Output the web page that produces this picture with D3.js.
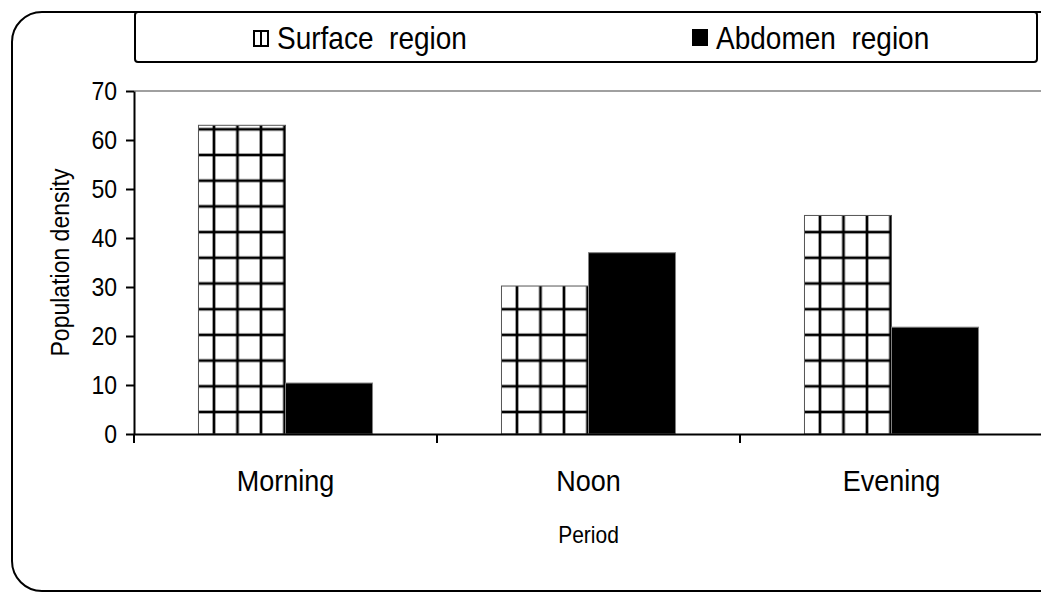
<!DOCTYPE html>
<meta charset="utf-8">
<style>
body { margin: 0; background: #fff; }
text { font-family: "Liberation Sans", Arial, sans-serif; fill: #000; }
</style>
<body>
<script src="https://cdn.jsdelivr.net/npm/d3@7/dist/d3.min.js"></script>
<script>

// data
var periods = ["Morning", "Noon", "Evening"];
var seriesNames = ["Surface region", "Abdomen region"];
var surface = [63, 30.2, 44.6];
var abdomen = [10.4, 37, 21.8];
var yTicks = [0, 10, 20, 30, 40, 50, 60, 70];

var W = 1041, H = 592;
var plotL = 134, plotR = 1043, plotT = 91, plotB = 434;

var svg = d3.select("body").append("svg")
    .attr("width", W)
    .attr("height", H);

var defs = svg.append("defs");

// the original text is a bit taller than it is wide: make glyphs taller, keep width
function stretch(sel, size) {
  sel.style("font-size", size + "px").each(function() {
    var len = this.getComputedTextLength();
    d3.select(this)
      .style("font-size", (size * 1.12) + "px")
      .attr("textLength", len)
      .attr("lengthAdjust", "spacingAndGlyphs");
  });
}

// scales
var x = d3.scaleBand().domain(periods).range([plotL, plotR]).paddingInner(0).paddingOuter(0);
var xs = d3.scaleBand().domain(seriesNames).range([0, x.bandwidth()]).paddingInner(0).paddingOuter(0.741);
var y = d3.scaleLinear().domain([0, 70]).range([plotB, plotT]);

// outer rounded frame (its right side runs off the picture)
svg.append("rect")
    .attr("x", 12).attr("y", 12)
    .attr("width", 1100).attr("height", 579)
    .attr("rx", 30)
    .attr("fill", "none")
    .attr("stroke", "#000")
    .attr("stroke-width", 2);

// grid hatch, one pattern per bar so lines start at the same offset
var pw = 23.5, ph = 25.7;
periods.forEach(function(p, i) {
  var bx = x(p) + xs(seriesNames[0]);
  var pat = defs.append("pattern")
      .attr("id", "hatch" + i)
      .attr("patternUnits", "userSpaceOnUse")
      .attr("width", pw).attr("height", ph)
      .attr("x", bx + 15.5 - pw / 2)
      .attr("y", y(0) - 22 - ph / 2);
  pat.append("rect").attr("width", pw).attr("height", ph).attr("fill", "#fff");
  pat.append("line").attr("x1", pw / 2).attr("x2", pw / 2).attr("y1", 0).attr("y2", ph)
      .attr("stroke", "#000").attr("stroke-width", 2.7);
  pat.append("line").attr("y1", ph / 2).attr("y2", ph / 2).attr("x1", 0).attr("x2", pw)
      .attr("stroke", "#000").attr("stroke-width", 2.7);
});

// top border of plot area
svg.append("line")
    .attr("x1", plotL).attr("x2", W)
    .attr("y1", plotT).attr("y2", plotT)
    .attr("stroke", "#808080").attr("stroke-width", 1.5);

// bars
var g = svg.append("g");
g.selectAll(".surf")
  .data(surface)
  .enter().append("rect")
    .attr("class", "surf")
    .attr("x", function(d, i) { return x(periods[i]) + xs(seriesNames[0]); })
    .attr("y", function(d) { return y(d); })
    .attr("width", xs.bandwidth())
    .attr("height", function(d) { return y(0) - y(d); })
    .attr("fill", function(d, i) { return "url(#hatch" + i + ")"; })
    .attr("stroke", "#555")
    .attr("stroke-width", 1);

g.selectAll(".abd")
  .data(abdomen)
  .enter().append("rect")
    .attr("class", "abd")
    .attr("x", function(d, i) { return x(periods[i]) + xs(seriesNames[1]); })
    .attr("y", function(d) { return y(d); })
    .attr("width", xs.bandwidth())
    .attr("height", function(d) { return y(0) - y(d); })
    .attr("fill", "#000")
    .attr("stroke", "#808080")
    .attr("stroke-width", 1);

// y axis
var yAxis = svg.append("g")
    .attr("transform", "translate(" + plotL + ",0)")
    .call(d3.axisLeft(y).tickValues(yTicks).tickSizeInner(8).tickSizeOuter(0).tickPadding(9));
yAxis.attr("font-family", null).attr("font-size", null);
yAxis.select(".domain").attr("stroke-width", 2);
yAxis.selectAll(".tick line").attr("stroke-width", 2);
yAxis.selectAll("text").attr("fill", "#000").call(stretch, 23);

// x axis: labels at band centres, ticks at band edges
var xAxis = svg.append("g")
    .attr("transform", "translate(0," + plotB + ")")
    .call(d3.axisBottom(x).tickSize(0).tickPadding(36));
xAxis.attr("font-family", null).attr("font-size", null);
xAxis.select(".domain").attr("stroke-width", 2.2);
xAxis.selectAll("text").attr("fill", "#000").call(stretch, 27);

var edges = periods.map(function(p) { return x(p); });
xAxis.selectAll(".edge")
  .data(edges)
  .enter().append("line")
    .attr("class", "edge")
    .attr("x1", function(d) { return d; }).attr("x2", function(d) { return d; })
    .attr("y1", 0).attr("y2", 9)
    .attr("stroke", "#000").attr("stroke-width", 2);

// axis titles
svg.append("text")
    .attr("transform", "translate(69," + ((plotT + plotB) / 2) + ") rotate(-90)")
    .attr("text-anchor", "middle")
    .text("Population density")
    .call(stretch, 23);

svg.append("text")
    .attr("x", (plotL + plotR) / 2)
    .attr("y", 543)
    .attr("text-anchor", "middle")
    .text("Period")
    .call(stretch, 21);

// legend
var leg = svg.append("g");
leg.append("rect")
    .attr("x", 135).attr("y", 12)
    .attr("width", 902).attr("height", 50)
    .attr("rx", 3)
    .attr("fill", "#fff")
    .attr("stroke", "#000")
    .attr("stroke-width", 2);

var legX = [253, 692];
leg.append("rect")
    .attr("x", legX[0] + 1).attr("y", 31)
    .attr("width", 14).attr("height", 15)
    .attr("fill", "#fff").attr("stroke", "#000").attr("stroke-width", 2);
leg.append("line")
    .attr("x1", legX[0] + 8).attr("x2", legX[0] + 8)
    .attr("y1", 31).attr("y2", 46)
    .attr("stroke", "#000").attr("stroke-width", 2);
leg.append("rect")
    .attr("x", legX[1]).attr("y", 29)
    .attr("width", 16).attr("height", 17)
    .attr("fill", "#000");

leg.selectAll(".ltxt")
  .data(["Surface  region", "Abdomen  region"])
  .enter().append("text")
    .attr("class", "ltxt")
    .attr("x", function(d, i) { return legX[i] + 24; })
    .attr("y", 49)
    .style("white-space", "pre")
    .text(function(d) { return d; })
    .call(stretch, 28);

</script>
</body>
